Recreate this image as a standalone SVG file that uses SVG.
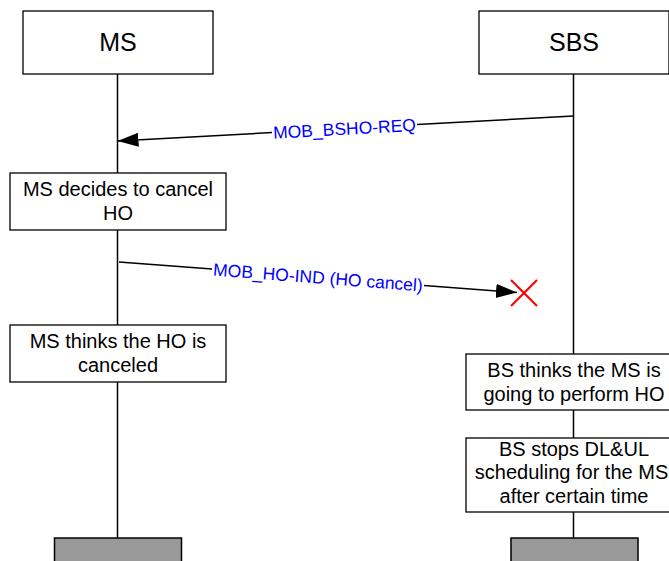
<svg xmlns="http://www.w3.org/2000/svg" width="669" height="561" viewBox="0 0 669 561">
<style>
.box{fill:#fff;stroke:#000;stroke-width:1.3}
.gray{fill:#999;stroke:#000;stroke-width:1.5}
.life{stroke:#000;stroke-width:1.5;fill:none}
.msg{stroke:#000;stroke-width:1.5;fill:none}
.title{font-family:"Liberation Sans",Arial,sans-serif;font-size:25px;fill:#000;text-anchor:middle}
.txt{font-family:"Liberation Sans",Arial,sans-serif;font-size:20px;fill:#000;text-anchor:middle}
.lbl{font-family:"Liberation Sans",Arial,sans-serif;font-size:17.5px;fill:#0000ff;text-anchor:middle}
.x{stroke:#ff0000;stroke-width:2.2;fill:none}
</style>
<defs>
<marker id="arr" markerUnits="userSpaceOnUse" markerWidth="22" markerHeight="15" refX="21" refY="7" orient="auto">
<path d="M0,0 L21,7 L0,14 z" fill="#000"/>
</marker>
</defs>
<g id="lifelines">
<line class="life" x1="117.5" y1="74" x2="117.5" y2="538"/>
<line class="life" x1="573.5" y1="74" x2="573.5" y2="538"/>
</g>
<g id="ms">
<rect class="box" x="23" y="11" width="190" height="63"/>
<text class="title" x="118" y="51">MS</text>
</g>
<g id="sbs">
<rect class="box" x="479" y="11" width="190" height="63"/>
<text class="title" x="574" y="51">SBS</text>
</g>
<g id="ms-decides">
<rect class="box" x="10" y="173" width="216" height="57"/>
<text class="txt" x="118" y="196">MS decides to cancel</text>
<text class="txt" x="118" y="219.5">HO</text>
</g>
<g id="ms-thinks">
<rect class="box" x="10" y="325" width="216" height="57"/>
<text class="txt" x="118" y="348">MS thinks the HO is</text>
<text class="txt" x="118" y="371.5">canceled</text>
</g>
<g id="bs-thinks">
<rect class="box" x="466" y="354" width="216" height="56"/>
<text class="txt" x="574" y="376.5">BS thinks the MS is</text>
<text class="txt" x="574" y="400.5">going to perform HO</text>
</g>
<g id="bs-stops">
<rect class="box" x="466" y="438" width="216" height="74"/>
<text class="txt" x="574" y="456">BS stops DL&amp;UL</text>
<text class="txt" x="571.5" y="479">scheduling for the MS</text>
<text class="txt" x="574" y="502.5">after certain time</text>
</g>
<g id="ms-end">
<rect class="gray" x="54.5" y="538" width="127" height="30"/>
</g>
<g id="sbs-end">
<rect class="gray" x="511" y="538" width="127" height="30"/>
</g>
<g id="connectors">
<line class="msg" x1="573.5" y1="116" x2="417" y2="124.6"/>
<line class="msg" x1="272" y1="132.5" x2="117.5" y2="141" marker-end="url(#arr)"/>
<text class="lbl" x="344.5" y="134.8" transform="rotate(-3.14 344.5 128.5)">MOB_BSHO-REQ</text>
<line class="msg" x1="119" y1="262" x2="212" y2="269.1"/>
<line class="msg" x1="424" y1="285.4" x2="517" y2="292.5" marker-end="url(#arr)"/>
<text class="lbl" x="318" y="283.5" transform="rotate(4.38 318 277.2)">MOB_HO-IND (HO cancel)</text>
</g>
<g id="cancel-x">
<line class="x" x1="511" y1="280" x2="537" y2="306"/>
<line class="x" x1="537" y1="280" x2="511" y2="306"/>
</g>
</svg>
